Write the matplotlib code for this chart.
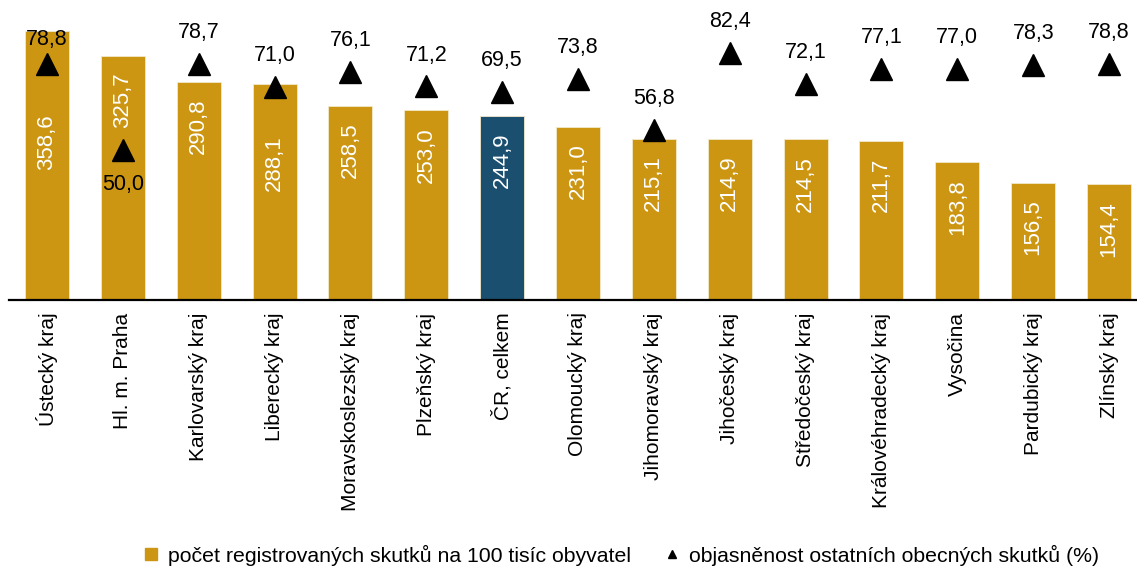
import numpy as np
import matplotlib.pyplot as plt
from matplotlib.lines import Line2D

plt.rcParams['font.family'] = ['Liberation Sans', 'DejaVu Sans']

kraje = ['Ústecký kraj', 'Hl. m. Praha', 'Karlovarský kraj', 'Liberecký kraj',
         'Moravskoslezský kraj', 'Plzeňský kraj', 'ČR, celkem', 'Olomoucký kraj',
         'Jihomoravský kraj', 'Jihočeský kraj', 'Středočeský kraj',
         'Královéhradecký kraj', 'Vysočina', 'Pardubický kraj', 'Zlínský kraj']
skutky = [358.6, 325.7, 290.8, 288.1, 258.5, 253.0, 244.9, 231.0,
          215.1, 214.9, 214.5, 211.7, 183.8, 156.5, 154.4]
objasnenost = [78.8, 50.0, 78.7, 71.0, 76.1, 71.2, 69.5, 73.8,
               56.8, 82.4, 72.1, 77.1, 77.0, 78.3, 78.8]

gold = '#cc9612'
blue = '#1a4f70'

def fmt(v):
    return ('%.1f' % v).replace('.', ',')

fig = plt.figure(figsize=(11.37, 5.66), dpi=100)
ax = fig.add_axes([9 / 1137, 266 / 566, 1138 / 1137, 300 / 566])
x = np.arange(len(kraje))
colors = [blue if k == 'ČR, celkem' else gold for k in kraje]
bars = ax.bar(x, skutky, width=0.58, color=colors, edgecolor='#f3e8cc', linewidth=0.6, zorder=2)
ax.set_xlim(-0.5, 14.5)
ax.set_ylim(0, 400)
for s in ['top', 'left', 'right']:
    ax.spines[s].set_visible(False)
ax.spines['bottom'].set_linewidth(1.6)
ax.spines['bottom'].set_zorder(5)
ax.set_yticks([])
ax.set_xticks(x)
ax.set_xticklabels(kraje, rotation=90, fontsize=15, va='top')
ax.tick_params(axis='x', length=0, pad=9)

# bar value labels (inside end, a few shifted below the triangles)
label_shift = {0: 60, 3: 37}
for i, v in enumerate(skutky):
    ax.annotate(fmt(v), (x[i], v), xytext=(0, -label_shift.get(i, 12)),
                textcoords='offset points', rotation=90, ha='center', va='top',
                color='white', fontsize=16)

ax2 = ax.twinx()
ax2.set_ylim(0, 100)
ax2.axis('off')
ax2.plot(x, objasnenost, linestyle='none', marker='^', markersize=16, color='black', zorder=6)
for i, v in enumerate(objasnenost):
    dy = 22.5
    if i == 0:
        dy = 17
    if v == 50.0:
        dy = -25
    ax2.annotate(fmt(v), (x[i], v), xytext=(0, dy), textcoords='offset points',
                 ha='center', va='center', color='black', fontsize=15.5)

handles = [Line2D([], [], linestyle='none', marker='s', markersize=8, color=gold),
           Line2D([], [], linestyle='none', marker='^', markersize=6, color='black')]
fig.legend(handles, ['počet registrovaných skutků na 100 tisíc obyvatel',
                     'objasněnost ostatních obecných skutků (%)'],
           loc='center', bbox_to_anchor=(0.545, 0.019), ncol=2, frameon=False,
           fontsize=15.3, handletextpad=0.3, columnspacing=1.4, handlelength=1.0)

fig.savefig('out.png', dpi=100)
